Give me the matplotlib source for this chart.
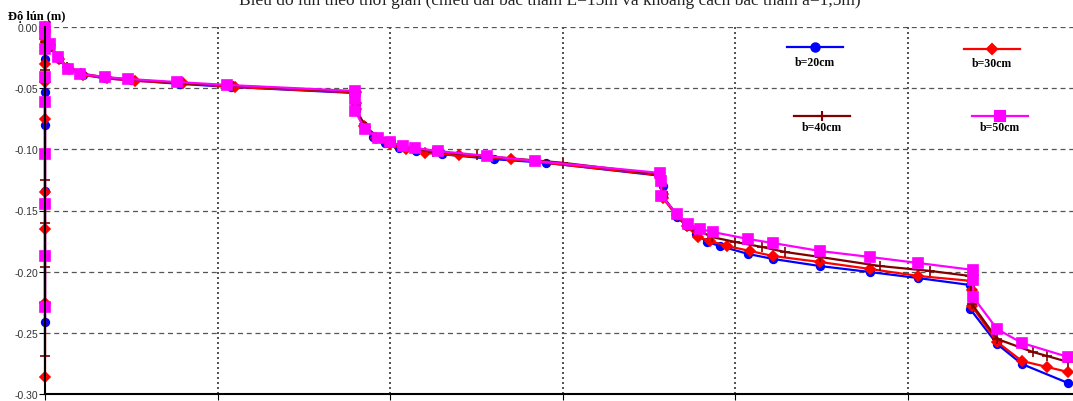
import numpy as np
import matplotlib.pyplot as plt
from matplotlib.lines import Line2D

# thoi gian (ngay) va do lun (m) cho tung be rong b
x_b20 = [0, 0, 0, 0, 0, 0, 0, 0,
         3, 8, 13, 22, 35, 50, 78, 108, 180,
         180, 180, 184, 190, 197, 205, 215, 230, 260, 290, 356,
         358, 358, 366, 372, 377, 383.5, 391, 407.3, 421.8, 449, 478, 505.8, 536,
         536, 551.6, 566, 592.7]
y_b20 = [-0.241, -0.134, -0.080, -0.053, -0.026, -0.013, -0.003, 0.0,
         -0.016, -0.026, -0.034, -0.039, -0.042, -0.0435, -0.0465, -0.049, -0.054,
         -0.063, -0.068, -0.080, -0.090, -0.095, -0.099, -0.101, -0.104, -0.108, -0.111, -0.1215,
         -0.130, -0.138, -0.155, -0.163, -0.169, -0.1757, -0.179, -0.1855, -0.1896, -0.1954, -0.2003, -0.2052, -0.2109,
         -0.2305, -0.2591, -0.2755, -0.291]

x_b30 = [0, 0, 0, 0, 0, 0, 0, 0, 0,
         3, 8, 14, 22, 36, 52, 80, 110, 180,
         180, 180, 185, 192, 200, 209, 220, 240, 270, 356,
         358, 358, 366, 372, 378.3, 385.3, 395.1, 408.5, 421.8, 449, 478, 505.8, 537,
         537, 537, 551.6, 566, 580.5, 592.7]
y_b30 = [-0.286, -0.226, -0.165, -0.135, -0.075, -0.045, -0.030, -0.010, 0.0,
         -0.015, -0.026, -0.034, -0.039, -0.042, -0.044, -0.046, -0.049, -0.0535,
         -0.0625, -0.067, -0.081, -0.091, -0.096, -0.100, -0.103, -0.105, -0.108, -0.121,
         -0.1365, -0.140, -0.154, -0.163, -0.1717, -0.1749, -0.179, -0.1831, -0.1872, -0.1921, -0.1978, -0.2035, -0.2076,
         -0.215, -0.228, -0.2575, -0.273, -0.2779, -0.282]

x_b40 = [0, 0, 0, 0, 0, 0, 0,
         3, 8, 13, 21, 34, 50, 79, 109, 180,
         180, 180, 186, 194, 203, 212, 225, 250, 300, 356,
         358, 358, 366, 372, 378, 386.4, 399.8, 415.4, 428.7, 449, 483.8, 512.7, 536,
         537, 551.6, 572.4, 580.5, 592.7]
y_b40 = [-0.269, -0.196, -0.160, -0.125, -0.035, -0.012, 0.0,
         -0.015, -0.025, -0.033, -0.038, -0.041, -0.043, -0.046, -0.048, -0.053,
         -0.064, -0.067, -0.082, -0.091, -0.096, -0.099, -0.102, -0.105, -0.111, -0.1205,
         -0.135, -0.139, -0.153, -0.161, -0.166, -0.1717, -0.1757, -0.1798, -0.1839, -0.188, -0.1954, -0.1994, -0.2035,
         -0.2264, -0.255, -0.2657, -0.2689, -0.2738]

x_b50 = [0, 0, 0, 0, 0, 0, 0, 0, 0,
         2.9, 7.5, 13.3, 20.3, 34.8, 48.1, 76.5, 105.4, 179.6,
         179.6, 179.6, 185.4, 192.9, 199.9, 207.4, 214.4, 227.7, 256.1, 283.9, 356.3,
         357, 357, 366.2, 372.5, 379.5, 387, 407.3, 421.8, 449, 478, 505.8, 537.7,
         537.7, 537.7, 551.6, 566, 592.7]
y_b50 = [-0.229, -0.187, -0.145, -0.104, -0.061, -0.041, -0.018, -0.006, 0.0,
         -0.0139, -0.0245, -0.0343, -0.0384, -0.0409, -0.0425, -0.045, -0.0474, -0.0523,
         -0.0585, -0.0687, -0.0834, -0.0907, -0.094, -0.0973, -0.0989, -0.1014, -0.1054, -0.1095, -0.1193,
         -0.1258, -0.1381, -0.1529, -0.161, -0.1651, -0.1676, -0.1733, -0.1766, -0.1831, -0.188, -0.1929, -0.1986,
         -0.2068, -0.2207, -0.2469, -0.2583, -0.2697]

labels = ['b=20cm', 'b=30cm', 'b=40cm', 'b=50cm']
colors = ['#0000ff', '#ff0000', '#800000', '#ff00ff']
markers = ['o', 'D', '+', 's']
msizes = [5.5, 5, 7, 7]
yticks = [-0.30, -0.25, -0.20, -0.15, -0.10, -0.05, 0.00]
ytick_labels = ['-0.30', '-0.25', '-0.20', '-0.15', '-0.10', '-0.05', '0.00']

W, H = 1073, 402
fig = plt.figure(figsize=(W / 100, H / 100), dpi=100)
x0, x1, ytop, ybot = 45, 1080.6, 28, 395
ax = fig.add_axes([x0 / W, (H - ybot) / H, (x1 - x0) / W, (ybot - ytop) / H])

series = [(x_b20, y_b20), (x_b30, y_b30), (x_b40, y_b40), (x_b50, y_b50)]
for (xs, ys), c, m, ms in zip(series, colors, markers, msizes):
    ax.plot(xs, ys, color=c, lw=1.6, marker=m, ms=ms, mew=1.2, clip_on=False)

ax.set_xlim(0, 600)
ax.set_ylim(-0.30, 0.0)
ax.set_xticks([0, 100, 200, 300, 400, 500, 600])
ax.set_yticks(yticks)
ax.set_yticklabels(ytick_labels, fontsize=7.5, color='#333333', family='Liberation Sans')
ax.tick_params(axis='x', labelbottom=False, length=4, direction='out')
ax.tick_params(axis='y', length=4, direction='out', pad=1)

# luoi: ngang net dut, doc cham
ax.grid(axis='y', ls=(0, (4, 3)), color='#555555', lw=0.9)
ax.grid(axis='x', ls=(0, (1.2, 1.8)), color='#333333', lw=1.2)
ax.set_axisbelow(True)
for s in ['top', 'right']:
    ax.spines[s].set_visible(False)
ax.spines['left'].set_color('black')
ax.spines['bottom'].set_color('black')
ax.spines['left'].set_linewidth(1.5)
ax.spines['bottom'].set_linewidth(1.5)

fig.text(8 / W, 1 - 20 / H, 'Độ lún (m)', fontsize=9, fontweight='bold',
         family='Liberation Serif')
# tieu de nam sat mep tren cua hinh
fig.text(550 / W, 1 - 5 / H,
         'Biểu đồ lún theo thời gian (chiều dài bấc thấm L=15m và khoảng cách bấc thấm a=1,5m)',
         fontsize=12.5, family='Liberation Serif', ha='center', va='baseline', color='#222222')

# chu giai tu ve: doan mau phia tren, nhan phia duoi
leg_pos = [(815, 48, 815, 63), (992, 50, 992, 64), (822, 117, 822, 128), (1000, 117, 1000, 128)]
for (lx, ly, tx, ty), lab, c, m, ms in zip(leg_pos, labels, colors, markers, msizes):
    fig.add_artist(Line2D([(lx - 28) / W, (lx + 28) / W], [1 - ly / H, 1 - ly / H],
                          color=c, lw=1.6, transform=fig.transFigure))
    fig.add_artist(Line2D([lx / W], [1 - ly / H], color=c, marker=m, ms=ms + 0.5, mew=1.5,
                          transform=fig.transFigure))
    fig.text(tx / W, 1 - ty / H, lab, fontsize=8.5, fontweight='bold',
             family='Liberation Serif', ha='center', va='center')

fig.savefig('out.png', dpi=100)
